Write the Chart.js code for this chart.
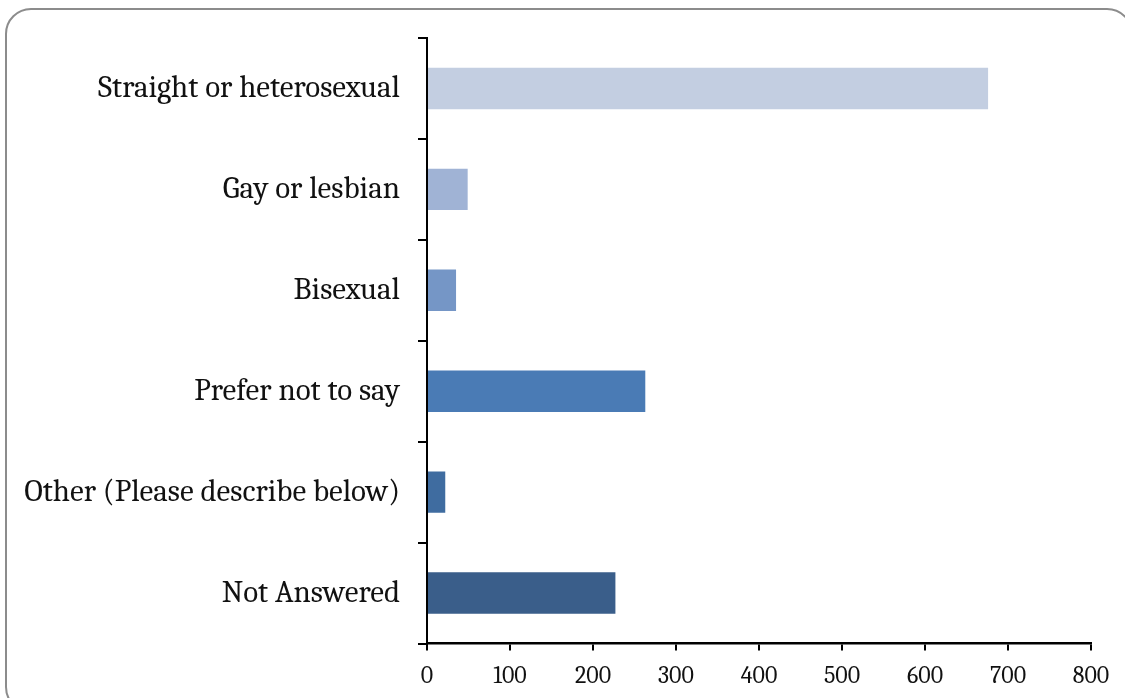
<!DOCTYPE html>
<html lang="en">
<head>
  <meta charset="UTF-8" />
  <title>Sexual orientation</title>
  <style>
    *{box-sizing:border-box}
    body{margin:0;background:#fff;width:1125px;height:698px;overflow:hidden;position:relative}
    .frame{position:absolute;left:5px;top:8px;width:1128px;height:705px;border:2px solid #8c8c8c;border-radius:26px}
    .wrap{position:absolute;left:0;top:0;width:1125px;height:698px}
  </style>
</head>
<body>
  <div class="frame"></div>
  <div class="wrap"><canvas id="chart"></canvas></div>

  <script src="https://cdn.jsdelivr.net/npm/chart.js"></script>
  <script>
    const categories = ['Straight or heterosexual', 'Gay or lesbian', 'Bisexual', 'Prefer not to say', 'Other (Please describe below)', 'Not Answered'];
    const counts = [676, 49, 35, 263, 22, 227];
    const barColors = ['#c3cee1', '#a0b3d5', '#7596c6', '#4a7bb5', '#3f6ca0', '#3a5e8a'];
    const xTicks = [0, 100, 200, 300, 400, 500, 600, 700, 800];

    const font = 'Cambria, "DejaVu Serif", serif';

    new Chart(document.getElementById('chart'), {
      type: 'bar',
      data: {
        labels: categories,
        datasets: [{ data: counts, backgroundColor: barColors, categoryPercentage: 1, barPercentage: 0.41 }]
      },
      options: {
        indexAxis: 'y',
        responsive: true,
        maintainAspectRatio: false,
        animation: false,
        layout: { padding: { top: 38, right: 34, left: 0, bottom: 0 } },
        plugins: { legend: { display: false }, tooltip: { enabled: false } },
        scales: {
          x: {
            min: 0, max: 800,
            afterBuildTicks: s => { s.ticks = xTicks.map(v => ({ value: v })); },
            afterFit: s => { s.height = 54.5; },
            border: { color: '#000', width: 2.5 },
            grid: { drawOnChartArea: false, color: '#000', lineWidth: 2, tickLength: 7 },
            ticks: { color: '#111', font: { family: font, size: 24 }, padding: 11 }
          },
          y: {
            afterFit: s => { s.width = 427; },
            border: { color: '#000', width: 2 },
            grid: { drawOnChartArea: false, color: '#000', lineWidth: 2, tickLength: 9, offset: true },
            ticks: { color: '#111', font: { family: font, size: 31 }, padding: 18 }
          }
        }
      }
    });
  </script>
</body>
</html>
